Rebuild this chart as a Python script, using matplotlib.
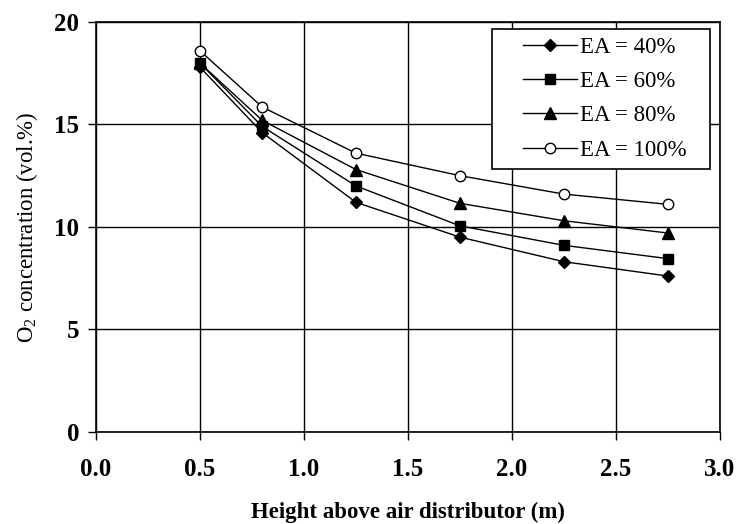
import matplotlib
matplotlib.use("Agg")
import matplotlib.pyplot as plt
from matplotlib.legend_handler import HandlerLine2D

plt.rcParams['font.family'] = ['Liberation Serif', 'DejaVu Serif']
plt.rcParams['mathtext.fontset'] = 'custom'
plt.rcParams['mathtext.rm'] = 'Liberation Serif'

# height above the air distributor (m)
height = [0.5, 0.8, 1.25, 1.75, 2.25, 2.75]

# O2 concentration (vol.%) for each excess-air level
o2_ea40 = [17.8, 14.6, 11.2, 9.5, 8.3, 7.6]
o2_ea60 = [18.0, 14.9, 12.0, 10.05, 9.1, 8.45]
o2_ea80 = [18.0, 15.2, 12.8, 11.15, 10.3, 9.7]
o2_ea100 = [18.6, 15.85, 13.6, 12.5, 11.6, 11.1]

labels = ['EA = 40%', 'EA = 60%', 'EA = 80%', 'EA = 100%']


class IndentedLine(HandlerLine2D):
    # legend line drawn only in the right part of the handle box,
    # leaving blank space between the frame and the sample line
    indent = 0.29

    def get_xdata(self, legend, xdescent, ydescent, width, height, fontsize):
        x0 = -xdescent + self.indent * width
        x1 = -xdescent + width
        return [x0, x1], [0.5 * (x0 + x1)]


fig = plt.figure(figsize=(7.37, 5.24), dpi=100)
ax = fig.add_axes([0.130, 0.176, 0.847, 0.782])

ax.plot(height, o2_ea40, marker='D', markersize=6.5, color='black', lw=1, label=labels[0])
ax.plot(height, o2_ea60, marker='s', markersize=7.5, color='black', lw=1, label=labels[1])
ax.plot(height, o2_ea80, marker='^', markersize=8.5, color='black', lw=1, label=labels[2])
ax.plot(height, o2_ea100, marker='o', markersize=7.5, color='black', mfc='white',
        mec='black', mew=1, lw=1, label=labels[3])

ax.set_xlim(0, 3.0)
ax.set_ylim(0, 20)
ax.set_xticks([0.0, 0.5, 1.0, 1.5, 2.0, 2.5, 3.0])
ax.set_xticklabels(['0.0', '0.5', '1.0', '1.5', '2.0', '2.5', '3.0'])
ax.set_yticks([0, 5, 10, 15, 20])
ax.grid(True, color='black', lw=1)
ax.set_axisbelow(True)
for s in ax.spines.values():
    s.set_linewidth(1.2)
ax.tick_params(direction='out', length=6, width=1, labelsize=18)
ax.tick_params(axis='x', pad=13)
ax.tick_params(axis='y', pad=6)
for t in ax.get_xticklabels() + ax.get_yticklabels():
    t.set_fontweight('bold')

ax.set_xlabel('Height above air distributor (m)', fontsize=16.5, fontweight='bold', labelpad=15)
ax.set_ylabel('O$_2$ concentration (vol.%)', fontsize=16.5, labelpad=10)

# legend box stretched to a fixed width, entries left-aligned inside it
leg = ax.legend(loc='upper left', bbox_to_anchor=(0.635, 0.983, 0.349, 0), mode='expand',
                fontsize=16.5, frameon=True, fancybox=False,
                edgecolor='black', framealpha=1, handlelength=3.36, handletextpad=0.13,
                borderpad=0.36, labelspacing=0.57, borderaxespad=0,
                handler_map={ln: IndentedLine() for ln in ax.get_lines()})
leg.get_frame().set_linewidth(1.2)

fig.savefig('out.png', dpi=100)
